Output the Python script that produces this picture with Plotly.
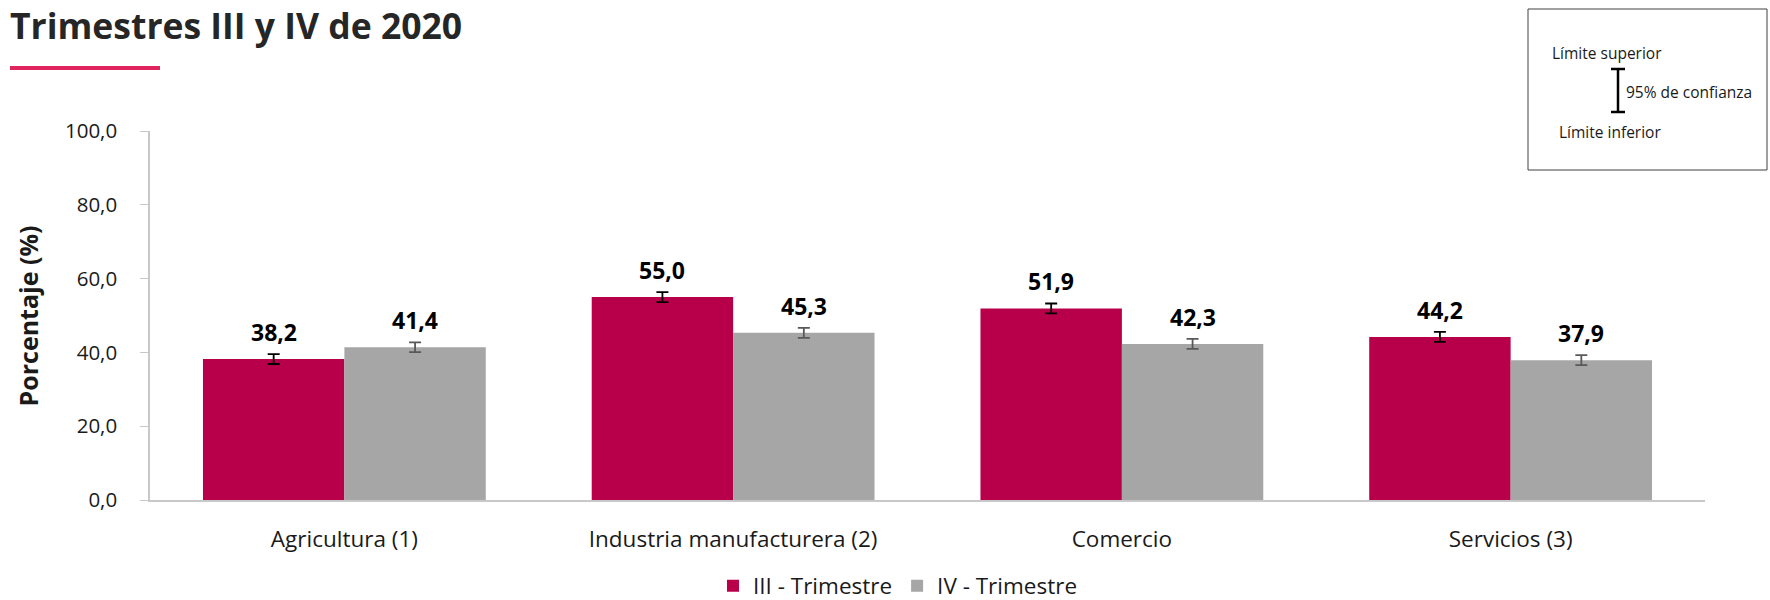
import plotly.graph_objects as go

categories = ["Agricultura (1)", "Industria manufacturera (2)", "Comercio", "Servicios (3)"]
series_names = ["III - Trimestre", "IV - Trimestre"]
q3_values = [38.2, 55.0, 51.9, 44.2]
q4_values = [41.4, 45.3, 42.3, 37.9]
q3_err = [1.35, 1.35, 1.35, 1.35]
q4_err = [1.3, 1.35, 1.35, 1.35]
y_ticks = [0, 20, 40, 60, 80, 100]

RED = "#B8004A"
GRAY = "#A6A6A6"
FONT = "Open Sans"
TXT = "#1a1a1a"

W, H = 1770, 600
# plot area in screen pixels (body margin removed by post_script below)
PL, PR, PT, PB = 150, 1705, 131, 500
PW = PR - PL
PH = PB - PT
ML, MR, MT, MB = PL, W - PR, PT, H - PB


def px_x(x):
    return (x - PL) / PW


def px_y(y):
    return (PB - y) / PH


def fmt(v):
    return f"{v:.1f}".replace(".", ",")


fig = go.Figure()
fig.add_trace(go.Bar(
    x=categories, y=q3_values, name=series_names[0],
    marker=dict(color=RED, line=dict(width=0)),
    error_y=dict(type="data", array=q3_err, visible=True, color="#000000", thickness=1.8, width=6),
))
fig.add_trace(go.Bar(
    x=categories, y=q4_values, name=series_names[1],
    marker=dict(color=GRAY, line=dict(width=0)),
    error_y=dict(type="data", array=q4_err, visible=True, color="#595959", thickness=1.8, width=6),
))

annotations = []
half = PW / len(categories) * (1 - 0.2725) / 4
for vals, shift in ((q3_values, -half), (q4_values, half)):
    for c, v in zip(categories, vals):
        annotations.append(dict(
            x=c, y=v, xref="x", yref="y", text=f"<b>{fmt(v)}</b>", showarrow=False,
            xshift=shift, yshift=27, yanchor="middle",
            font=dict(family=FONT, size=23, color="#000000"),
        ))

# y axis title
annotations.append(dict(
    x=px_x(27), y=0.5, xref="paper", yref="paper", text="<b>Porcentaje (%)</b>",
    textangle=-90, showarrow=False, xanchor="center", yanchor="middle",
    font=dict(family=FONT, size=25, color=TXT),
))
# chart title
annotations.append(dict(
    x=px_x(8), y=px_y(25), xref="paper", yref="paper", text="<b>Trimestres III y IV de 2020</b>",
    showarrow=False, xanchor="left", yanchor="middle",
    font=dict(family=FONT, size=35.5, color="#262626"),
))
# confidence key texts
key_font = dict(family=FONT, size=15.5, color="#1a1a1a")
annotations += [
    dict(x=px_x(1550), y=px_y(53), xref="paper", yref="paper", text="Límite superior",
         showarrow=False, xanchor="left", yanchor="middle", font=key_font),
    dict(x=px_x(1624), y=px_y(92), xref="paper", yref="paper", text="95% de confianza",
         showarrow=False, xanchor="left", yanchor="middle", font=key_font),
    dict(x=px_x(1557), y=px_y(132), xref="paper", yref="paper", text="Límite inferior",
         showarrow=False, xanchor="left", yanchor="middle", font=key_font),
]

shapes = [
    # red underline under title
    dict(type="line", xref="paper", yref="paper", x0=px_x(10), x1=px_x(160),
         y0=px_y(68), y1=px_y(68), line=dict(color="#E0245E", width=4)),
    # key box
    dict(type="rect", xref="paper", yref="paper", x0=px_x(1528), x1=px_x(1767),
         y0=px_y(170), y1=px_y(9), line=dict(color="#404040", width=1), fillcolor="rgba(0,0,0,0)"),
    # I-beam
    dict(type="line", xref="paper", yref="paper", x0=px_x(1618), x1=px_x(1618),
         y0=px_y(69), y1=px_y(112), line=dict(color="#000000", width=2.5)),
    dict(type="line", xref="paper", yref="paper", x0=px_x(1611), x1=px_x(1625),
         y0=px_y(69), y1=px_y(69), line=dict(color="#000000", width=2.5)),
    dict(type="line", xref="paper", yref="paper", x0=px_x(1611), x1=px_x(1625),
         y0=px_y(112), y1=px_y(112), line=dict(color="#000000", width=2.5)),
]

fig.update_layout(
    width=W, height=H,
    margin=dict(l=ML, r=MR, t=MT, b=MB, autoexpand=False),
    paper_bgcolor="white", plot_bgcolor="white",
    barmode="group", bargap=0.2725, bargroupgap=0,
    separators=",.",
    font=dict(family=FONT, size=20, color=TXT),
    showlegend=True,
    legend=dict(orientation="h", x=px_x(898), xanchor="center", y=px_y(586), yanchor="middle",
                font=dict(family=FONT, size=22.5, color=TXT), traceorder="normal",
                bgcolor="rgba(0,0,0,0)"),
    annotations=annotations,
    shapes=shapes,
    xaxis=dict(showline=True, linecolor="#C8C8C8", linewidth=1.5, ticks="", showgrid=False,
               automargin=False,
               tickfont=dict(family=FONT, size=22.5, color=TXT), ticklabelstandoff=18),
    yaxis=dict(range=[0, 100], tickvals=y_ticks, tickformat=".1f", showline=True,
               linecolor="#C8C8C8", linewidth=1.5, ticks="outside", ticklen=8,
               tickcolor="#C8C8C8", showgrid=False, zeroline=False, automargin=False,
               tickfont=dict(family=FONT, size=20.5, color=TXT), ticklabelstandoff=19),
)

fig.write_html("out.html", config={"displayModeBar": False},
               post_script="document.body.style.margin='0';")
